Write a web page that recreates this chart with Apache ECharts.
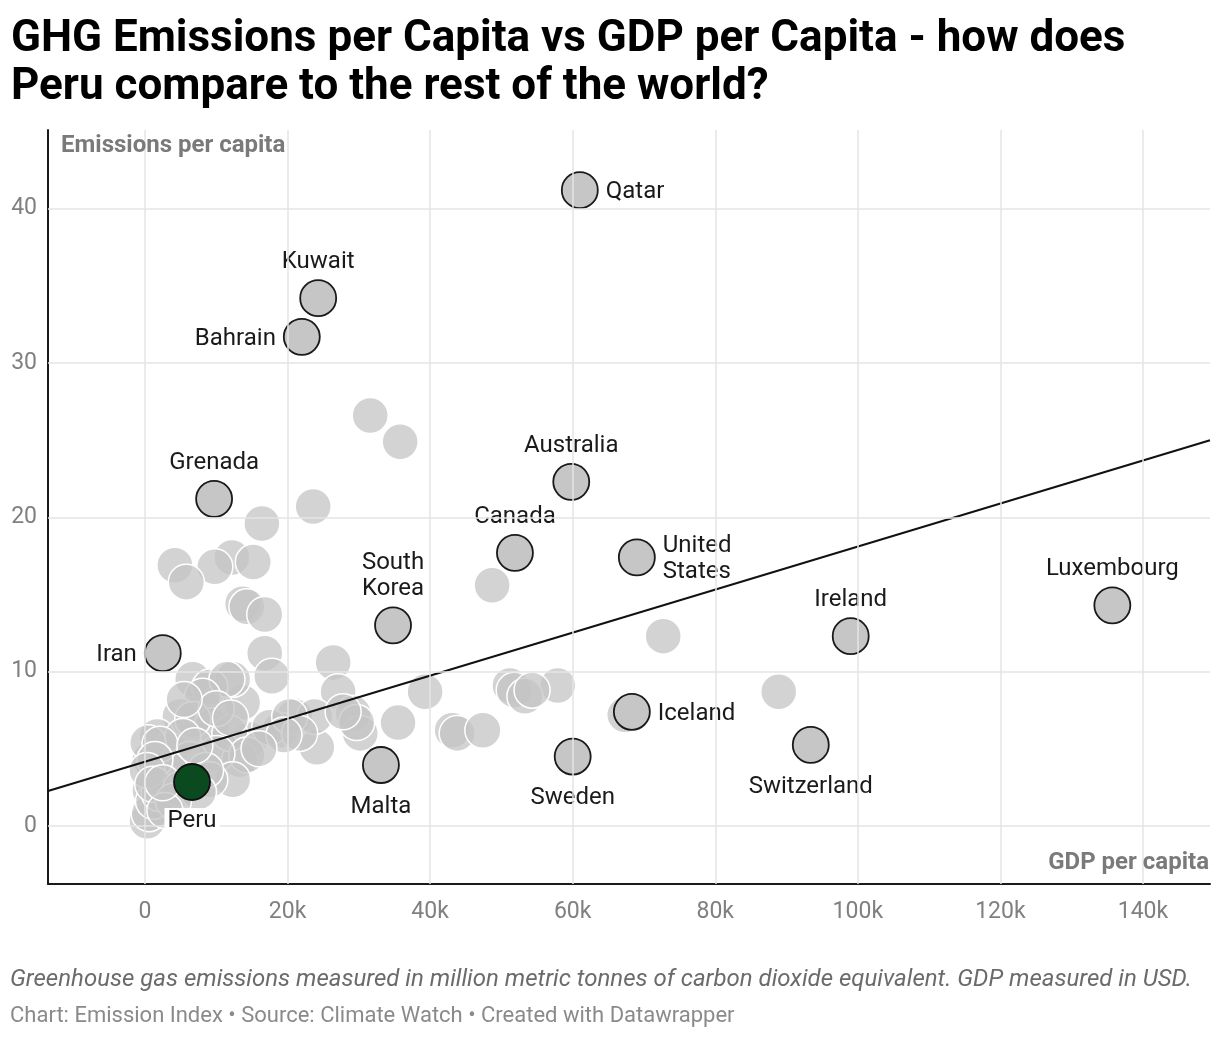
<!DOCTYPE html>
<html>
<head>
<meta charset="utf-8">
<script src="https://cdn.jsdelivr.net/npm/echarts@6/dist/echarts.min.js"></script>
<style>
html,body{margin:0;padding:0;background:#fff;}
#chart{width:1220px;height:1038px;}
</style>
</head>
<body>
<div id="chart"></div>
<script>
// ---------- DATA ----------
// GDP per capita in thousands of USD, emissions per capita (t CO2e)
const highlightNames = ['Qatar','Kuwait','Bahrain','Grenada','Australia','Canada','United States','South Korea','Iran','Luxembourg','Ireland','Iceland','Switzerland','Sweden','Malta'];
const highlightGdp   = [61.0, 24.3, 22.0, 9.7, 59.8, 51.9, 69.0, 34.8, 2.5, 135.7, 99.0, 68.3, 93.4, 60.0, 33.1];
const highlightEmis  = [41.2, 34.2, 31.7, 21.2, 22.3, 17.7, 17.4, 13.0, 11.2, 14.3, 12.3, 7.4, 5.25, 4.5, 3.95];

const focusName = 'Peru';
const focusGdp  = 6.6;
const focusEmis = 2.85;

const otherGdp  = [31.6, 35.8, 23.6, 16.4, 12.2, 15.2, 9.8, 4.2, 5.8, 13.7, 14.3, 16.8, 16.8, 17.8, 26.4, 27.1, 29.2, 30.2, 35.5, 39.3,
                   24.1, 21.0, 23.8, 18.9, 14.7, 13.7, 9.1, 12.3, 7.7, 10.5, 13.3, 43.1, 43.8, 47.4, 48.7, 57.9, 51.2, 51.8, 53.3, 54.3,
                   72.7, 88.9, 67.3, 6.7, 9.1, 11.5, 8.1, 4.9, 9.4, 6.7, 1.7, 0.7, 3.5, 5.3, 11.9, 14.3, 17.5, 20.3, 21.7, 10.1,
                   6.3, 3.5, 12.3, 9.1, 0.7, 0.3, 0.6, 1.2, 2.0, 0.4, 2.1, 1.4, 0.3, 1.1, 29.7, 27.8, 8.5, 5.0, 7.5, 4.0,
                   2.8, 19.5, 16.0, 7.0, 10.0, 12.0, 5.5, 2.5];
const otherEmis = [26.6, 24.9, 20.7, 19.6, 17.4, 17.1, 16.8, 16.9, 15.8, 14.4, 14.2, 13.7, 11.2, 9.7, 10.6, 8.7, 7.3, 6.0, 6.7, 8.7,
                   5.1, 7.1, 7.1, 6.2, 5.6, 8.0, 8.6, 9.5, 7.3, 5.1, 4.3, 6.2, 6.0, 6.2, 15.6, 9.1, 9.1, 8.8, 8.4, 8.8,
                   12.3, 8.7, 7.2, 9.5, 9.0, 9.5, 8.4, 7.1, 6.5, 6.9, 5.8, 4.3, 4.9, 5.8, 6.0, 4.6, 6.4, 7.1, 6.0, 4.7,
                   4.3, 3.6, 3.0, 3.0, 2.3, 0.3, 0.8, 1.6, 2.1, 5.4, 5.3, 4.3, 3.6, 2.7, 6.7, 7.4, 3.6, 2.4, 2.2, 1.6,
                   1.0, 5.9, 5.0, 5.2, 7.6, 7.0, 8.2, 2.8];

// trend line end points [gdp (k USD), emissions]
const trendLine = [[-13.6, 2.27], [149.4, 25.0]];

const xTicks = [0, 20, 40, 60, 80, 100, 120, 140];
const yTicks = [0, 10, 20, 30, 40];

// ---------- STYLE ----------
const labelPlacement = {
  'Qatar':'right','Kuwait':'top','Bahrain':'left','Grenada':'top','Australia':'top','Canada':'top',
  'United States':'right','South Korea':'top','Iran':'left','Luxembourg':'top','Ireland':'top',
  'Iceland':'right','Switzerland':'bottom','Sweden':'bottom','Malta':'bottom'
};
const labelDistance = {top: 4, bottom: 10, left: 7, right: 7};
const labelText = {'United States':'United\nStates','South Korea':'South\nKorea'};

const FONT = 'Roboto';
const chart = echarts.init(document.getElementById('chart'), null, {renderer:'canvas'});

const otherData = otherGdp.map((g, i) => [g, otherEmis[i]]);
const highlightData = highlightNames.map((n, i) => {
  const pos = labelPlacement[n];
  return {
    name: n,
    value: [highlightGdp[i], highlightEmis[i]],
    label: {
      show: true,
      position: pos,
      distance: labelDistance[pos],
      offset: (pos === 'left' || pos === 'right') ? [0, 2] : [0, 0],
      formatter: labelText[n] || n,
      align: pos === 'right' ? 'left' : (pos === 'left' ? 'right' : 'center')
    }
  };
});

const gridLines = yTicks.map(v => ({yAxis: v})).concat(xTicks.map(v => ({xAxis: v})));

chart.setOption({
  animation: false,
  backgroundColor: '#fff',
  title: {
    text: 'GHG Emissions per Capita vs GDP per Capita - how does\nPeru compare to the rest of the world?',
    left: 6, top: 11,
    textStyle: {fontFamily: FONT, fontWeight: 'bold', fontSize: 44, lineHeight: 48, color: '#000'}
  },
  grid: {left: 48, right: 10, top: 130, bottom: 154, containLabel: false},
  xAxis: {
    type: 'value', min: -13.6, max: 149.4,
    axisLine: {show: true, onZero: false, lineStyle: {color: '#1a1a1a', width: 2}},
    axisTick: {show: false},
    splitLine: {show: false},
    axisLabel: {
      customValues: xTicks, margin: 17,
      fontFamily: FONT, fontSize: 23, color: '#808080',
      formatter: v => v === 0 ? '0' : v + 'k'
    }
  },
  yAxis: {
    type: 'value', min: -3.76, max: 45.1,
    axisLine: {show: true, onZero: false, lineStyle: {color: '#1a1a1a', width: 2}},
    axisTick: {show: false},
    splitLine: {show: false},
    axisLabel: {customValues: yTicks, margin: 11, fontFamily: FONT, fontSize: 23, color: '#808080'}
  },
  graphic: [
    {type: 'text', left: 61, top: 134, z: 10,
     style: {text: 'Emissions per capita', fill: '#7a7a7a', font: 'bold 24px Roboto'}},
    {type: 'text', right: 11, top: 851, z: 10,
     style: {text: 'GDP per capita', fill: '#7a7a7a', font: 'bold 24px Roboto'}},
    {type: 'text', left: 10, top: 968,
     style: {text: 'Greenhouse gas emissions measured in million metric tonnes of carbon dioxide equivalent. GDP measured in USD.', fill: '#6b6b6b', font: 'italic 24px Roboto'}},
    {type: 'text', left: 10, top: 1005,
     style: {text: 'Chart: Emission Index \u2022 Source: Climate Watch \u2022 Created with Datawrapper', fill: '#8a8a8a', font: '22px Roboto'}}
  ],
  series: [
    {
      type: 'scatter', name: 'grid', data: [], silent: true, z: 0,
      markLine: {
        silent: true, symbol: ['none', 'none'], animation: false,
        label: {show: false},
        lineStyle: {color: '#e4e4e4', width: 1.5, type: 'solid'},
        emphasis: {disabled: true},
        data: gridLines
      }
    },
    {
      type: 'scatter', name: 'other', data: otherData, z: 2,
      symbolSize: 36,
      itemStyle: {color: 'rgba(196,196,196,0.75)', borderColor: '#ffffff', borderWidth: 1.5, opacity: 1}
    },
    {
      type: 'line', name: 'trend', data: trendLine, z: 3,
      showSymbol: false, symbol: 'none',
      lineStyle: {color: '#111', width: 2}
    },
    {
      type: 'scatter', name: 'highlight', data: highlightData, z: 4,
      symbolSize: 36,
      itemStyle: {color: '#c6c6c6', borderColor: '#1a1a1a', borderWidth: 1.8, opacity: 1},
      label: {fontFamily: FONT, fontSize: 24, color: '#1a1a1a', lineHeight: 26, textBorderColor: '#fff', textBorderWidth: 4}
    },
    {
      type: 'scatter', name: 'focus', data: [{name: focusName, value: [focusGdp, focusEmis]}], z: 5,
      symbolSize: 36,
      itemStyle: {color: '#0b4a1f', borderColor: '#111', borderWidth: 1.8, opacity: 1},
      label: {show: true, position: 'bottom', distance: 7, formatter: '{b}',
              fontFamily: FONT, fontSize: 24, color: '#1a1a1a', backgroundColor: '#fff', padding: [1, 3, 0, 3]}
    }
  ]
});
</script>
</body>
</html>
